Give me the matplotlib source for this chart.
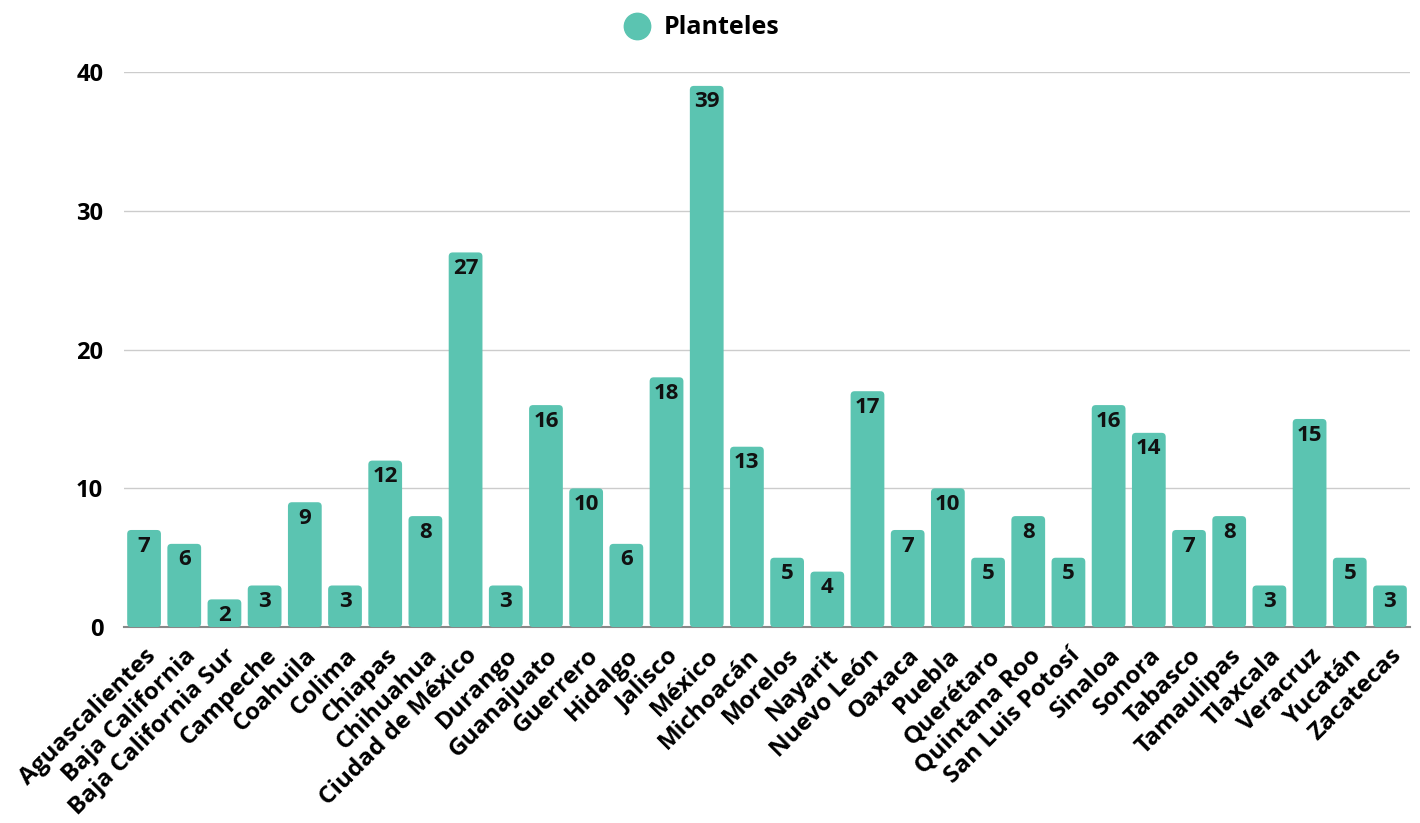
import matplotlib.pyplot as plt
from matplotlib.patches import FancyBboxPatch
from matplotlib.lines import Line2D

estados = ['Aguascalientes', 'Baja California', 'Baja California Sur', 'Campeche',
           'Coahuila', 'Colima', 'Chiapas', 'Chihuahua', 'Ciudad de México',
           'Durango', 'Guanajuato', 'Guerrero', 'Hidalgo', 'Jalisco', 'México',
           'Michoacán', 'Morelos', 'Nayarit', 'Nuevo León', 'Oaxaca', 'Puebla',
           'Querétaro', 'Quintana Roo', 'San Luis Potosí', 'Sinaloa', 'Sonora',
           'Tabasco', 'Tamaulipas', 'Tlaxcala', 'Veracruz', 'Yucatán', 'Zacatecas']
planteles = [7, 6, 2, 3, 9, 3, 12, 8, 27, 3, 16, 10, 6, 18, 39, 13, 5, 4, 17, 7,
             10, 5, 8, 5, 16, 14, 7, 8, 3, 15, 5, 3]
yticks = [0, 10, 20, 30, 40]

color = '#5bc4b1'
plt.rcParams['font.family'] = ['Open Sans', 'DejaVu Sans']
plt.rcParams['font.weight'] = 'bold'

fig = plt.figure(figsize=(14.2, 8.23), dpi=100)
ax = fig.add_axes([0.0873, 0.238, 0.9057, 0.6745])

x = list(range(len(estados)))
bars = ax.bar(x, planteles, width=0.84, color=color)
ax.set_xlim(-0.5, len(estados) - 0.5)
ax.set_ylim(0, 40)

# swap plain bars for ones with rounded corners
aspect = (40 / (0.6745 * 823)) / (len(estados) / (0.9057 * 1420))
for b in bars:
    p = FancyBboxPatch((b.get_x(), b.get_y()), b.get_width(), b.get_height(),
                       boxstyle='round,pad=0,rounding_size=0.1',
                       mutation_aspect=aspect, fc=color, ec='none', zorder=2)
    ax.add_patch(p)
    b.set_visible(False)
    ax.annotate(str(int(b.get_height())), (b.get_x() + b.get_width() / 2, b.get_height()),
                xytext=(0, -4), textcoords='offset points', ha='center', va='top',
                fontsize=16, fontweight='bold', color='#111111', zorder=3)

ax.set_yticks(yticks)
ax.set_yticklabels([str(t) for t in yticks], fontsize=17, fontweight='bold')
ax.set_xticks(x)
ax.set_xticklabels(estados, rotation=45, ha='right', rotation_mode='anchor',
                   fontsize=17.5, fontweight='bold')
ax.tick_params(axis='both', length=0)
ax.tick_params(axis='y', pad=15)
ax.tick_params(axis='x', pad=12)
ax.grid(axis='y', color='#cccccc', linewidth=1)
ax.set_axisbelow(True)
for s in ['top', 'right', 'left']:
    ax.spines[s].set_visible(False)
ax.spines['bottom'].set_color('#888888')
ax.spines['bottom'].set_linewidth(1.5)
ax.spines['bottom'].set_zorder(1)

handle = Line2D([], [], marker='o', linestyle='none', markersize=19,
                markerfacecolor=color, markeredgecolor=color)
fig.legend([handle], ['Planteles'], loc='center', bbox_to_anchor=(0.49, 0.966),
           frameon=False, prop={'size': 18, 'weight': 'bold'}, handletextpad=0.1)

fig.savefig('out.png', dpi=100)
